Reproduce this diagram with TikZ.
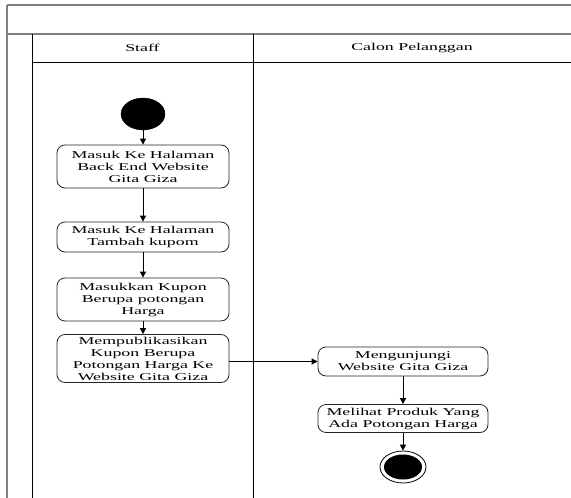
\documentclass[tikz,border=0pt]{standalone}
\usepackage{fontspec}
\setmainfont{Liberation Serif}[FakeStretch=1.7]
\usetikzlibrary{arrows.meta,shapes.geometric}
\begin{document}
\begin{tikzpicture}[x=1pt,y=-1pt,
  frame/.style={draw=black!50, line width=1.4pt},
  lane/.style={draw=black, line width=0.9pt},
  lanetitle/.style={inner sep=0pt, font=\fontsize{10.5}{12}\selectfont},
  act/.style={draw=black!85, line width=0.8pt, rounded corners=8pt, inner sep=0pt,
    align=center, font=\fontsize{10.5}{12}\selectfont},
  flow/.style={draw=black, line width=0.8pt, -{Triangle[width=6pt,length=6pt]}},
  startnode/.style={ellipse, fill=black, draw=black, inner sep=0pt,
    minimum width=44pt, minimum height=32pt},
  endring/.style={ellipse, draw=black, line width=0.8pt, fill=white, inner sep=0pt,
    minimum width=46pt, minimum height=32pt},
  enddot/.style={ellipse, fill=black, inner sep=0pt,
    minimum width=38pt, minimum height=25pt}]
\useasboundingbox (0,0) rectangle (571,498);
\fill[white] (0,0) rectangle (571,498);

% swimlane frame
\draw[frame] (7,5) -- (571,5);
\draw[frame] (7,5) -- (7,498);
\draw[frame] (7,34) -- (571,34);
\draw[lane] (32,34) -- (32,498);
\draw[lane] (32,62) -- (571,62);
\draw[lane] (253,34) -- (253,498);

\node[lanetitle] (tStaff) at (142.5,48) {Staff};
\node[lanetitle] (tCalon) at (412,48) {Calon Pelanggan};

% Staff lane
\node[startnode] (start) at (143,114) {};
\node[act, minimum width=172pt, minimum height=43pt] (b1) at (143,166.5)
  {Masuk Ke Halaman\\Back End Website\\Gita Giza};
\node[act, minimum width=172pt, minimum height=30pt] (b2) at (143,237)
  {Masuk Ke Halaman\\Tambah kupom};
\node[act, minimum width=172pt, minimum height=43pt] (b3) at (143,299.5)
  {Masukkan Kupon\\Berupa potongan\\Harga};
\node[act, minimum width=172pt, minimum height=48pt] (b4) at (143,358.5)
  {Mempublikasikan\\Kupon Berupa\\Potongan Harga Ke\\Website Gita Giza};

% Calon Pelanggan lane
\node[act, minimum width=170pt, minimum height=29pt] (b5) at (403,361.5)
  {Mengunjungi\\Website Gita Giza};
\node[act, minimum width=170pt, minimum height=28pt] (b6) at (403,418.5)
  {Melihat Produk Yang\\Ada Potongan Harga};
\node[endring] (endO) at (403,467) {};
\node[enddot] (endI) at (endO.center) {};

% control flow
\draw[flow] (start) -- (b1);
\draw[flow] (b1) -- (b2);
\draw[flow] (b2) -- (b3);
\draw[flow] (b3) -- (b4);
\draw[flow] (b4.east |- b5.west) -- (b5.west);
\draw[flow] (b5) -- (b6);
\draw[flow] (b6) -- (endO);
\end{tikzpicture}
\end{document}
